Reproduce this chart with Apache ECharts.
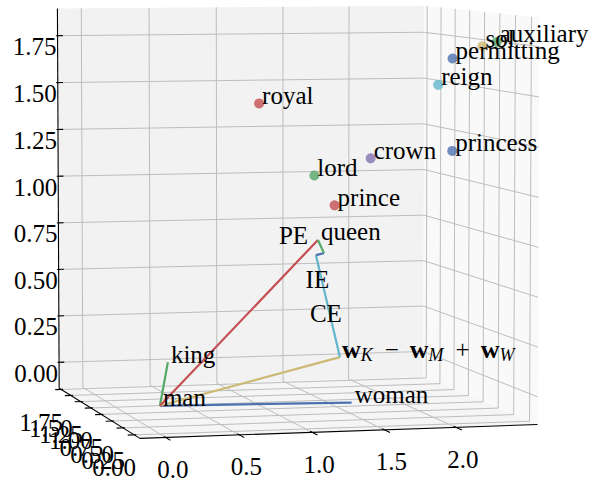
<!DOCTYPE html>
<html><head><meta charset="utf-8">
<script src="https://cdn.jsdelivr.net/npm/echarts@6/dist/echarts.min.js"></script>
<style>html,body{margin:0;padding:0;background:#fff}#c{width:589px;height:482px}</style>
</head><body><div id="c"></div>
<script>
// ---------------- data ----------------
const xLim = [-0.175, 2.575];
const yLim = [-0.1225, 1.8025];
const zLim = [-0.1394, 1.8944];
const xTicks = [0, 0.5, 1.0, 1.5, 2.0];
const yTicks = [0, 0.25, 0.5, 0.75, 1.0, 1.25, 1.5, 1.75];
const zTicks = [0, 0.25, 0.5, 0.75, 1.0, 1.25, 1.5, 1.75];
const xTickLabels = ['0.0', '0.5', '1.0', '1.5', '2.0'];
const yTickLabels = ['0.00', '0.25', '0.50', '0.75', '1.00', '1.25', '1.50', '1.75'];
const zTickLabels = ['0.00', '0.25', '0.50', '0.75', '1.00', '1.25', '1.50', '1.75'];

// scattered words
const words = ['royal', 'lord', 'crown', 'prince', 'princess', 'reign', 'permitting', 'sol', 'auxiliary'];
const wordX = [0.68, 1.06, 1.45, 1.20, 2.02, 1.92, 2.02, 2.23, 2.33];
const wordY = [0, 0, 0, 0, 0, 0, 0, 0, 0];
const wordZ = [1.48, 1.12, 1.20, 0.97, 1.23, 1.56, 1.69, 1.75, 1.77];

// analogy vectors (all start at "man")
const vecWords = ['man', 'woman', 'king', 'queen'];
const vecX = [0, 1.32, 0.055, 1.085];
const vecY = [0, 0, 0, 0];
const vecZ = [0, -0.015, 0.214, 0.80];
const analogyX = 1.238, analogyY = 0, analogyZ = 0.214;   // w_K - w_M + w_W

// error decomposition path: analogy point -> CE -> IE -> PE -> queen
const pathNames = ['CE', 'IE', 'PE'];
const pathX = [1.238, 1.071, 1.127, 1.085];
const pathY = [0, 0, 0, 0];
const pathZ = [0.214, 0.725, 0.734, 0.80];
const pathLabelX = [1.03, 1.00, 0.816];
const pathLabelY = [0, 0, 0];
const pathLabelZ = [0.394, 0.563, 0.789];

// ---------------- styles / view ----------------
const wordColors = ['#C44E52', '#55A868', '#8172B2', '#C44E52', '#4C72B0', '#64B5CD', '#4C72B0', '#CCB974', '#55A868'];
const vecColors = {woman: '#4C72B0', king: '#55A868', queen: '#C44E52', analogy: '#CCB974'};
const pathColors = ['#64B5CD', '#4C72B0', '#55A868'];
const FAMILY = '"Liberation Serif","Times New Roman",serif';
const FS = 25;
const GRID = '#bdbdbd';

const elev = 4.6, azim = -104.4, dist = 10.234, aspect = [1, 1, 1];
const viewX = [-0.736, 0.759], viewY = [-0.690, 0.533];

const d2r = Math.PI / 180;
const th = elev * d2r, ph = azim * d2r;
const W = [Math.cos(th) * Math.cos(ph), Math.cos(th) * Math.sin(ph), Math.sin(th)];
const R = [-Math.sin(ph), Math.cos(ph), 0];
const V = [-Math.sin(th) * Math.cos(ph), -Math.sin(th) * Math.sin(ph), Math.cos(th)];
function nrm(val, lim) { return (val - lim[0]) / (lim[1] - lim[0]) - 0.5; }
function proj(x, y, z) {
  const p = [nrm(x, xLim) * aspect[0], nrm(y, yLim) * aspect[1], nrm(z, zLim) * aspect[2]];
  const dot = a => a[0] * p[0] + a[1] * p[1] + a[2] * p[2];
  const depth = dist - dot(W);
  return [dist * dot(R) / depth, dist * dot(V) / depth];
}
function seg(a, b) { const p = proj(...a), q = proj(...b); return [p[0], p[1], q[0], q[1]]; }

const [x0, x1] = xLim, [y0, y1] = yLim, [z0, z1] = zLim;
const xs = x1 - x0, ys = y1 - y0, zs = z1 - z0;

// panes
const panes = [
  [[x0, y1, z0], [x1, y1, z0], [x1, y1, z1], [x0, y1, z1]],   // back (y pane)
  [[x1, y0, z0], [x1, y1, z0], [x1, y1, z1], [x1, y0, z1]],   // right (x pane)
  [[x0, y0, z0], [x1, y0, z0], [x1, y1, z0], [x0, y1, z0]]    // floor (z pane)
];
const paneColors = ['#f2f2f2', '#f9f9f9', '#f5f5f5'];
const paneData = panes.map(pl => pl.flatMap(c => proj(...c)));

// grid lines
const gridSegs = [];
xTicks.forEach(t => { gridSegs.push(seg([t, y1, z0], [t, y1, z1])); gridSegs.push(seg([t, y0, z0], [t, y1, z0])); });
yTicks.forEach(t => { gridSegs.push(seg([x1, t, z0], [x1, t, z1])); gridSegs.push(seg([x0, t, z0], [x1, t, z0])); });
zTicks.forEach(t => { gridSegs.push(seg([x0, y1, t], [x1, y1, t])); gridSegs.push(seg([x1, y0, t], [x1, y1, t])); });

// axis lines + ticks
const axisSegs = [
  seg([x0, y0, z0], [x1, y0, z0]),
  seg([x0, y0, z0], [x0, y1, z0]),
  seg([x0, y1, z0], [x0, y1, z1])
];
xTicks.forEach(t => axisSegs.push(seg([t, y0 - 0.05 * ys, z0], [t, y0 + 0.02 * ys, z0])));
yTicks.forEach(t => axisSegs.push(seg([x0 - 0.016 * xs, t, z0], [x0 + 0.005 * xs, t, z0])));
zTicks.forEach(t => axisSegs.push(seg([x0 - 0.004 * xs, y1, t], [x0 + 0.014 * xs, y1, t])));

// text items
const texts = [];
xTicks.forEach((t, i) => texts.push({pos: proj(t, y0, z0), text: xTickLabels[i], dx: 7, dy: 32, align: 'center'}));
yTicks.forEach((t, i) => texts.push({pos: proj(x0, t, z0), text: yTickLabels[i], dx: -20, dy: 33, align: 'center'}));
zTicks.forEach((t, i) => texts.push({pos: proj(x0, y1, t), text: zTickLabels[i], dx: -1, dy: 11, align: 'right'}));
words.forEach((wd, i) => texts.push({pos: proj(wordX[i], wordY[i], wordZ[i]), text: wd, dx: 3, dy: -8, align: 'left'}));
vecWords.forEach((wd, i) => texts.push({pos: proj(vecX[i], vecY[i], vecZ[i]), text: wd, dx: 3, dy: -8, align: 'left'}));
pathNames.forEach((nm, i) => texts.push({pos: proj(pathLabelX[i], pathLabelY[i], pathLabelZ[i]), text: nm, dx: 0, dy: -8, align: 'left'}));
texts.push({pos: proj(analogyX, analogyY, analogyZ), dx: 2, dy: -8, align: 'left',
  text: '{b|w}{s|K}{o|\u2212}{b|w}{s|M}{o|+}{b|w}{s|W}',
  rich: {
    b: {fontFamily: FAMILY, fontSize: 26, fontWeight: 'bold', lineHeight: 30, fill: '#000'},
    s: {fontFamily: FAMILY, fontSize: 18, fontStyle: 'italic', lineHeight: 16, verticalAlign: 'bottom', padding: [0, 1, 0, 0], fill: '#000'},
    o: {fontFamily: FAMILY, fontSize: FS, lineHeight: 30, padding: [0, 11, 0, 11], fill: '#000'}
  }});

// ---------------- series ----------------
function segSeries(data, color, width, z) {
  return {type: 'custom', coordinateSystem: 'cartesian2d', z, silent: true, clip: false, data,
    renderItem: (params, api) => {
      const a = api.coord([api.value(0), api.value(1)]), b = api.coord([api.value(2), api.value(3)]);
      return {type: 'line', shape: {x1: a[0], y1: a[1], x2: b[0], y2: b[1]}, style: {stroke: color, lineWidth: width}};
    }};
}
const series = [];
series.push({type: 'custom', coordinateSystem: 'cartesian2d', z: 1, silent: true, clip: false, data: paneData,
  renderItem: (params, api) => {
    const pts = [];
    for (let i = 0; i < 4; i++) pts.push(api.coord([api.value(2 * i), api.value(2 * i + 1)]));
    return {type: 'polygon', shape: {points: pts}, style: {fill: paneColors[params.dataIndex]}};
  }});
series.push(segSeries(gridSegs, GRID, 1, 2));
series.push(segSeries(axisSegs, '#000', 1.1, 3));

function vecLine(a, b, color) {
  return {type: 'line', z: 4, data: [proj(...a), proj(...b)], symbol: 'none', silent: true,
    lineStyle: {color, width: 2.2}, animation: false};
}
const manP = [vecX[0], vecY[0], vecZ[0]];
series.push(vecLine(manP, [vecX[1], vecY[1], vecZ[1]], vecColors.woman));
series.push(vecLine(manP, [vecX[2], vecY[2], vecZ[2]], vecColors.king));
series.push(vecLine(manP, [analogyX, analogyY, analogyZ], vecColors.analogy));
series.push(vecLine(manP, [vecX[3], vecY[3], vecZ[3]], vecColors.queen));
for (let i = 0; i < 3; i++) {
  series.push(vecLine([pathX[i], pathY[i], pathZ[i]], [pathX[i + 1], pathY[i + 1], pathZ[i + 1]], pathColors[i]));
}
series.push({type: 'scatter', z: 5, symbolSize: 10, silent: true,
  data: words.map((wd, i) => ({value: proj(wordX[i], wordY[i], wordZ[i]), itemStyle: {color: wordColors[i]}}))});
series.push({type: 'custom', coordinateSystem: 'cartesian2d', z: 6, silent: true, clip: false,
  data: texts.map(t => t.pos),
  renderItem: (params, api) => {
    const t = texts[params.dataIndex];
    const c = api.coord([api.value(0), api.value(1)]);
    const style = {text: t.text, fill: '#000', align: t.align, verticalAlign: 'middle',
      font: FS + 'px ' + FAMILY};
    if (t.rich) style.rich = t.rich;
    return {type: 'text', x: c[0] + t.dx, y: c[1] + t.dy, style};
  }});

const chart = echarts.init(document.getElementById('c'), null, {renderer: 'svg'});
chart.setOption({
  animation: false,
  grid: {left: 0, right: 0, top: 0, bottom: 0},
  xAxis: {type: 'value', min: viewX[0], max: viewX[1], show: false},
  yAxis: {type: 'value', min: viewY[0], max: viewY[1], show: false},
  series
});
</script></body></html>
